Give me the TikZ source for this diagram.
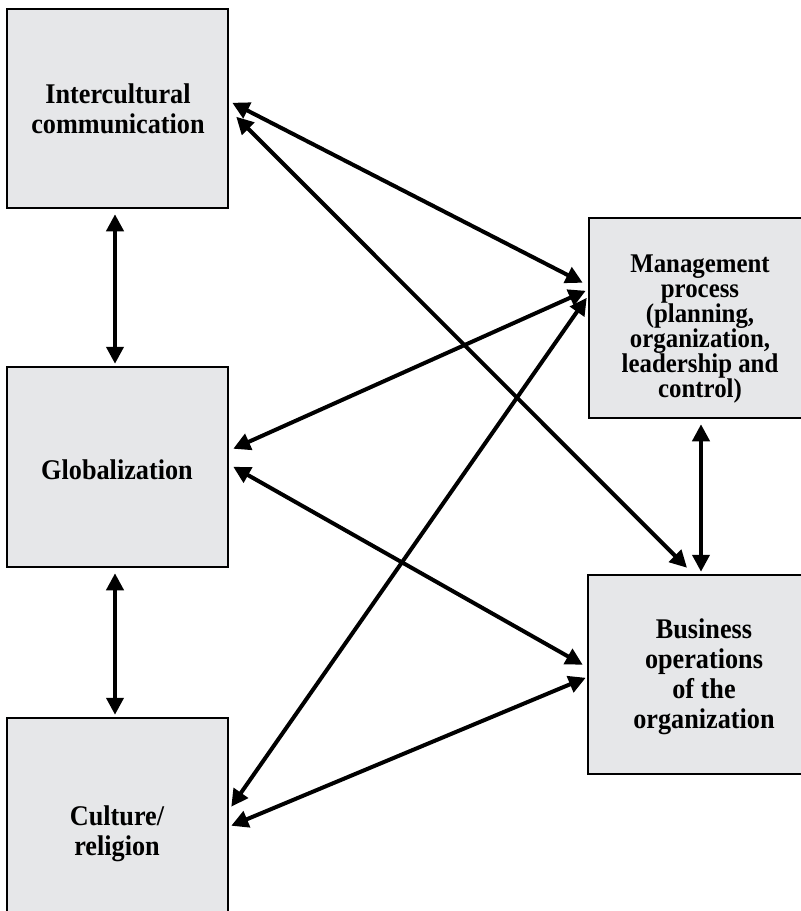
\documentclass[tikz,border=0pt]{standalone}
\usepackage{fontspec}
\setmainfont{Liberation Serif}[FakeStretch=0.92]
\usetikzlibrary{arrows.meta,calc}
\definecolor{boxgray}{HTML}{E6E7E9}
\begin{document}
\begin{tikzpicture}[x=1pt,y=1pt,
  box/.style={draw=black,line width=2.5pt,fill=boxgray,rectangle,inner sep=0pt},
  lbl/.style={align=center,font=\fontsize{28.5}{30}\selectfont\bfseries,inner sep=0pt},
  lbltight/.style={align=center,font=\fontsize{27}{25}\selectfont\bfseries,inner sep=0pt},
  link/.style={line width=4pt,{Triangle[length=17pt,width=17pt]}-{Triangle[length=17pt,width=17pt]}}
]
\useasboundingbox (0,0) rectangle (801,-911);
\clip (0,0) rectangle (801,-911);
\fill[white] (0,0) rectangle (801,-911);
% boxes
\node[box,minimum width=221pt,minimum height=199pt] (ic) at (117.5,-108.5) {};
\node[box,minimum width=221pt,minimum height=200pt] (gl) at (117.5,-467) {};
\node[box,minimum width=221pt,minimum height=230pt] (cr) at (117.5,-833) {};
\node[box,minimum width=226pt,minimum height=200pt] (mp) at (702,-318) {};
\node[box,minimum width=227pt,minimum height=199pt] (bo) at (701.5,-674.5) {};
% texts
\node[lbl] (ict) at (118,-109) {Intercultural\\communication};
\node[lbl] (glt) at (117,-470) {Globalization};
\node[lbl] (crt) at (117,-834) {Culture/\\religion};
\node[lbltight] (mpt) at (700,-329) {Management\\process\\(planning,\\organization,\\leadership and\\control)};
\node[lbl] (bot) at (704,-677) {Business\\operations\\of the\\organization};
% vertical links
\draw[link] ($(ic.south)+(-2.5,-5)$) -- ($(gl.north)+(-2.5,2)$);
\draw[link] ($(gl.south)+(-2.5,-5)$) -- ($(cr.north)+(-2.5,2)$);
\draw[link] ($(mp.south)+(-1,-5)$) -- ($(bo.north)+(-0.5,2)$);
% diagonal links
\draw[link] ($(ic.north east)+(3,-95)$) -- ($(mp.north west)+(-5,-66)$);
\draw[link] ($(ic.north east)+(7,-109)$) -- ($(bo.north)+(-14.5,6)$);
\draw[link] ($(gl.north east)+(4,-83)$) -- ($(mp.north west)+(-2,-74)$);
\draw[link] ($(gl.north east)+(4,-101)$) -- ($(bo.north west)+(-4,-91)$);
\draw[link] ($(cr.north east)+(2,-90)$) -- ($(mp.north west)+(-1,-81)$);
\draw[link] ($(cr.north east)+(2,-109)$) -- ($(bo.north west)+(-1,-104)$);
\end{tikzpicture}
\end{document}
